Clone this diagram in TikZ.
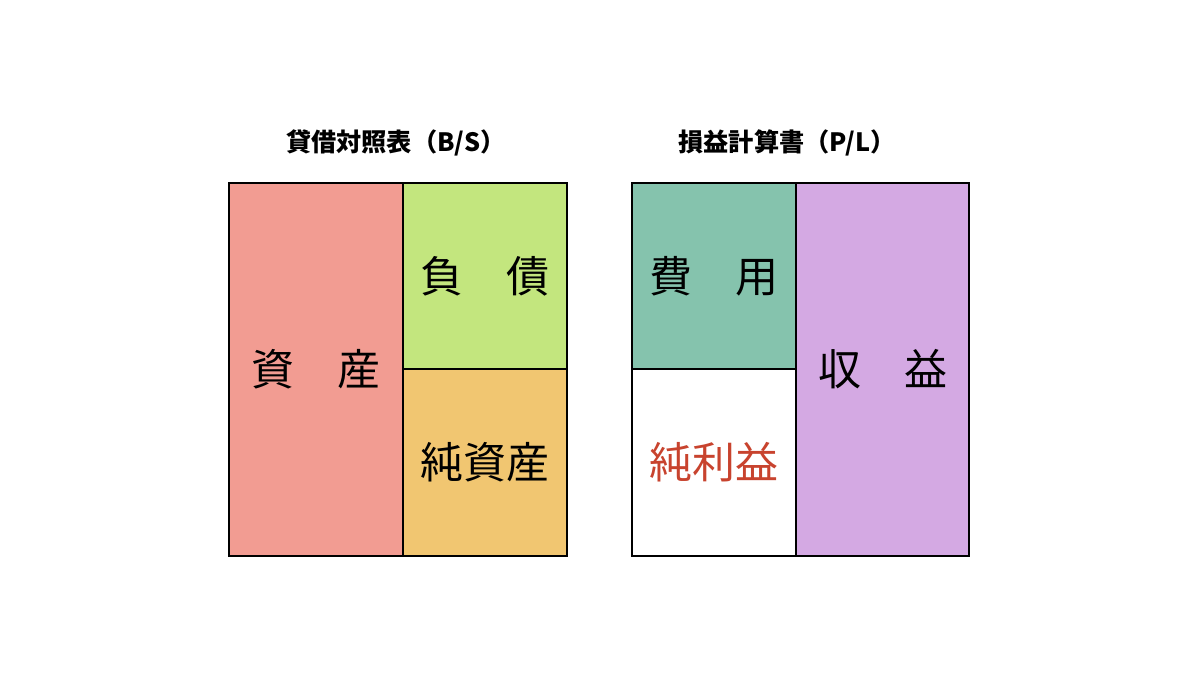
\documentclass[tikz,border=0pt]{standalone}
\usepackage{fontspec}
\newfontfamily\jp{Noto Sans CJK JP}
\definecolor{cAsset}{HTML}{F29C92}
\definecolor{cLiab}{HTML}{C3E67E}
\definecolor{cEquity}{HTML}{F1C671}
\definecolor{cCost}{HTML}{85C3AD}
\definecolor{cRev}{HTML}{D4A9E3}
\definecolor{cProfit}{HTML}{C8432E}
\tikzset{
  cell/.style={draw=black, line width=1pt, inner sep=0pt, font=\jp\fontsize{21.5}{24}\selectfont, text=black},
  title/.style={inner sep=0pt, font=\jp\bfseries\fontsize{12.6}{15}\selectfont}
}
\begin{document}
\begin{tikzpicture}[x=0.5pt,y=-0.5pt]
\fill[white] (0,0) rectangle (1200,675);
\useasboundingbox (0,0) rectangle (1200,675);
% B/S
\node[title] (bstitle) at (396,143) {貸借対照表（B/S）};
\node[cell, fill=cAsset, minimum width=87pt, minimum height=186.5pt] (asset) at (316,369.5) {資　産};
\node[cell, fill=cLiab, minimum width=82pt, minimum height=93pt] (liab) at (485,276) {負　債};
\node[cell, fill=cEquity, minimum width=82pt, minimum height=93.5pt] (equity) at (485,462.5) {純資産};
% P/L
\node[title] (pltitle) at (787,143) {損益計算書（P/L）};
\node[cell, fill=cRev, minimum width=86.5pt, minimum height=186.5pt] (rev) at (882.5,369.5) {収　益};
\node[cell, fill=cCost, minimum width=82pt, minimum height=93pt] (cost) at (714,276) {費　用};
\node[cell, fill=white, text=cProfit, minimum width=82pt, minimum height=93.5pt] (profit) at (714,462.5) {純利益};
\end{tikzpicture}
\end{document}
